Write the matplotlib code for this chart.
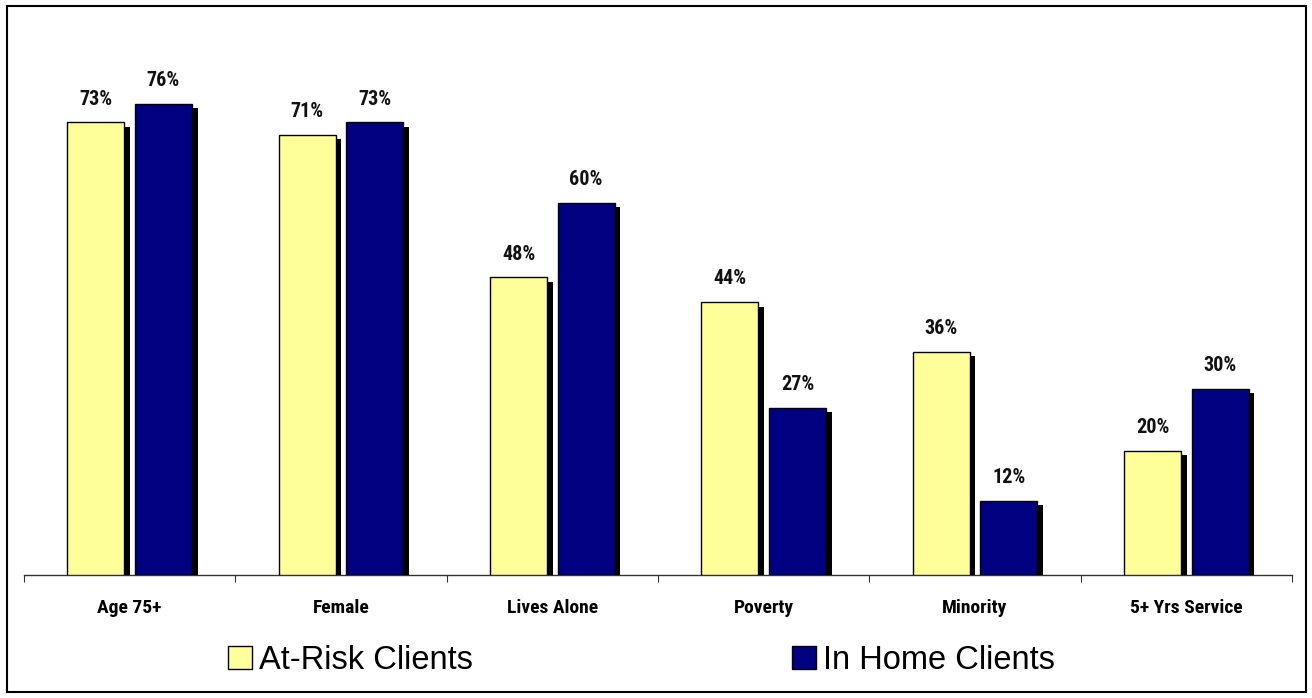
import matplotlib
matplotlib.use("Agg")
import matplotlib.pyplot as plt
import matplotlib.patheffects as pe
from matplotlib.patches import Patch, Rectangle
from matplotlib import font_manager
import numpy as np

# données du graphique
categories = ["Age 75+", "Female", "Lives Alone", "Poverty", "Minority", "5+ Yrs Service"]
at_risk = [73, 71, 48, 44, 36, 20]
in_home = [76, 73, 60, 27, 12, 30]
series_names = ["At-Risk Clients", "In Home Clients"]

JAUNE = "#FFFF99"
MARINE = "#000080"

# police étroite si disponible
dispo = {f.name for f in font_manager.fontManager.ttflist}
narrow = [n for n in ["Liberation Sans Narrow", "DejaVu Sans Condensed", "Roboto Condensed"] if n in dispo]
narrow = (narrow[:1] or ["Liberation Sans"]) + ["DejaVu Sans"]

fig = plt.figure(figsize=(13.12, 6.98), dpi=100)
ax = fig.add_axes([24 / 1312, 1 - 575 / 698, (1292 - 24) / 1312, 558 / 698])

x = np.arange(len(categories))
largeur = 0.27
ombre = [pe.SimplePatchShadow(offset=(4, -3.2), shadow_rgbFace="black", alpha=1.0), pe.Normal()]

b1 = ax.bar(x - 0.16, at_risk, largeur, color=JAUNE, edgecolor="black", linewidth=1, zorder=3)
b2 = ax.bar(x + 0.16, in_home, largeur, color=MARINE, edgecolor="black", linewidth=1, zorder=3)
for barres in (b1, b2):
    for b in barres:
        b.set_path_effects(ombre)
    ax.bar_label(barres, labels=[f"{v}%" for v in barres.datavalues], padding=10,
                 fontsize=14.5, fontweight="bold", family=narrow, color="#111111")

ax.set_xlim(-0.5, len(categories) - 0.5)
ax.set_ylim(0, 90)
ax.set_yticks([])
for s in ("left", "right", "top"):
    ax.spines[s].set_visible(False)
ax.spines["bottom"].set_color("#333333")
ax.spines["bottom"].set_linewidth(1)

# graduations aux limites des groupes, étiquettes au centre
ax.set_xticks(np.arange(-0.5, len(categories)), labels=[""] * (len(categories) + 1))
ax.tick_params(axis="x", which="major", length=5, color="#333333", direction="out")
ax.set_xticks(x, minor=True)
ax.set_xticklabels(categories, minor=True, fontsize=14, fontweight="bold", family=narrow)
ax.tick_params(axis="x", which="minor", length=0, pad=17)

poignees = [Patch(facecolor=JAUNE, edgecolor="black", linewidth=1),
            Patch(facecolor=MARINE, edgecolor="black", linewidth=1)]
fig.legend(poignees, series_names, loc="center", bbox_to_anchor=(0.489, 0.054), ncol=2,
           frameon=False, prop={"family": ["Liberation Sans", "DejaVu Sans"], "size": 23.5},
           handlelength=0.72, handleheight=0.72, handletextpad=0.22, columnspacing=9.8)

# cadre autour de la figure
fig.patches.append(Rectangle((7 / 1312, 6 / 698), 1299 / 1312, 686 / 698, transform=fig.transFigure,
                             fill=False, edgecolor="black", linewidth=1.5))

fig.savefig("out.png", dpi=100)
